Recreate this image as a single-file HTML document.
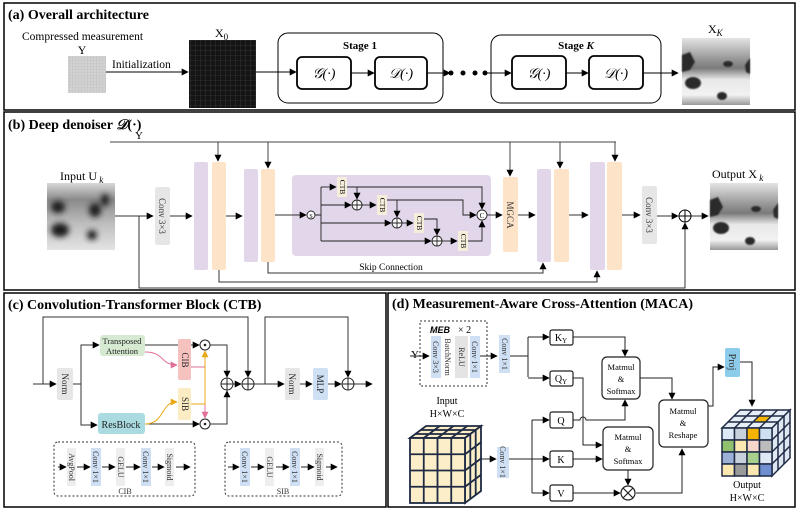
<!DOCTYPE html>
<html><head><meta charset="utf-8"><style>
html,body{margin:0;padding:0;background:#fff;}
svg{display:block;font-family:"Liberation Serif",serif;}
</style></head><body>
<svg width="798" height="510" viewBox="0 0 798 510" xmlns="http://www.w3.org/2000/svg">
<defs>
<marker id="a" viewBox="0 0 10 10" refX="9" refY="5" markerWidth="7" markerHeight="7" markerUnits="userSpaceOnUse" orient="auto"><path d="M0,0L10,5L0,10z" fill="#000"/></marker>
<marker id="ap" viewBox="0 0 10 10" refX="9" refY="5" markerWidth="7" markerHeight="7" markerUnits="userSpaceOnUse" orient="auto"><path d="M0,0L10,5L0,10z" fill="#e0709a"/></marker>
<marker id="ay" viewBox="0 0 10 10" refX="9" refY="5" markerWidth="7" markerHeight="7" markerUnits="userSpaceOnUse" orient="auto"><path d="M0,0L10,5L0,10z" fill="#e8a917"/></marker>
<pattern id="gy" width="3" height="3" patternUnits="userSpaceOnUse"><rect width="3" height="3" fill="#d2d2d2"/><path d="M0,0H3M0,0V3" stroke="#b8b8b8" stroke-width="0.6"/></pattern>
<pattern id="gx" width="5" height="5" patternUnits="userSpaceOnUse"><rect width="5" height="5" fill="#141414"/><path d="M0,0H5M0,0V5" stroke="#3a3a3a" stroke-width="0.8"/></pattern>
<linearGradient id="ug" x1="0" y1="0" x2="0" y2="1"><stop offset="0" stop-color="#d8d8d8"/><stop offset="0.25" stop-color="#8a8a8a"/><stop offset="0.6" stop-color="#bdbdbd"/><stop offset="1" stop-color="#e4e4e4"/></linearGradient>
<linearGradient id="og" x1="0" y1="0" x2="0" y2="1"><stop offset="0" stop-color="#e4e4e4"/><stop offset="0.3" stop-color="#9a9a9a"/><stop offset="0.45" stop-color="#7a7a7a"/><stop offset="0.62" stop-color="#e8e8e8"/><stop offset="0.85" stop-color="#f2f2f2"/><stop offset="1" stop-color="#999"/></linearGradient>
<filter id="bl"><feGaussianBlur stdDeviation="3"/></filter>
<filter id="bl2"><feGaussianBlur stdDeviation="0.8"/></filter>
</defs>

<g fill="none" stroke="#000" stroke-width="1.5">
<rect x="4" y="3" width="791" height="107"/>
<rect x="4" y="112" width="791" height="178"/>
<rect x="4" y="293" width="382" height="214"/>
<rect x="388" y="293" width="407" height="214"/>
</g>

<!-- (a) -->
<text x="8" y="19" font-size="14" font-weight="bold">(a) Overall architecture</text>
<text x="22" y="40" font-size="11.5">Compressed measurement</text>
<text x="82" y="54" font-size="11.5" text-anchor="middle">Y</text>
<rect x="68" y="56" width="38" height="37" fill="url(#gy)"/>
<text x="112" y="68" font-size="11.5">Initialization</text>
<line x1="106" y1="72" x2="188" y2="72" stroke="#000" marker-end="url(#a)"/>
<rect x="189" y="40" width="67" height="68" fill="url(#gx)"/>
<text x="215" y="37" font-size="12">X<tspan font-size="9" dy="3">0</tspan></text>
<line x1="256" y1="72" x2="296" y2="72" stroke="#000" marker-end="url(#a)"/>
<g fill="none" stroke="#000" stroke-width="1">
<rect x="278" y="33" width="165" height="70" rx="10"/>
<rect x="491" y="35" width="170" height="68" rx="10"/>
</g>
<g fill="none" stroke="#000" stroke-width="1.8">
<rect x="297" y="57" width="54" height="32" rx="5"/>
<rect x="375" y="57" width="52" height="32" rx="5"/>
<rect x="512" y="56" width="54" height="33" rx="5"/>
<rect x="589" y="56" width="54" height="33" rx="5"/>
</g>
<text x="360" y="49" font-size="11" font-weight="bold" text-anchor="middle">Stage 1</text>
<text x="576" y="49" font-size="11" font-weight="bold" text-anchor="middle">Stage <tspan font-style="italic">K</tspan></text>
<g font-size="14" font-style="italic" text-anchor="middle">
<text x="324" y="78">𝒢(·)</text><text x="401" y="78">𝒟(·)</text>
<text x="539" y="78">𝒢(·)</text><text x="616" y="78">𝒟(·)</text>
</g>
<g stroke="#000" fill="none">
<line x1="351" y1="73" x2="374" y2="73" marker-end="url(#a)"/>
<line x1="427" y1="73" x2="450" y2="73" marker-end="url(#a)"/>
<line x1="485" y1="73" x2="511" y2="73" marker-end="url(#a)"/>
<line x1="566" y1="73" x2="588" y2="73" marker-end="url(#a)"/>
<line x1="643" y1="73" x2="678" y2="73" marker-end="url(#a)"/>
</g>
<circle cx="451" cy="73" r="2.5"/><circle cx="463" cy="73" r="2.5"/><circle cx="475" cy="73" r="2.5"/><circle cx="485" cy="73" r="2.5"/>
<text x="708" y="33" font-size="12">X<tspan font-size="9" font-style="italic" dy="3">K</tspan></text>
<g>
<rect x="682" y="38" width="68" height="67" fill="url(#og)"/>
<g filter="url(#bl2)" fill="#2a2a2a"><path d="M682,55L690,52L695,62L690,70L682,72z"/><ellipse cx="728" cy="64" rx="5" ry="3"/><ellipse cx="693" cy="83" rx="8" ry="6"/><ellipse cx="722" cy="96" rx="5" ry="4"/><path d="M750,58L745,65L746,72L750,74z"/></g>
</g>

<!-- (b) -->
<text x="8" y="129" font-size="14" font-weight="bold">(b) Deep denoiser <tspan font-style="italic">𝒟</tspan>(·)</text>
<text x="139" y="139" font-size="11" text-anchor="middle">Y</text>
<g stroke="#444" fill="none">
<path d="M110,142H616"/>
<line x1="218" y1="142" x2="218" y2="161" marker-end="url(#a)"/>
<line x1="268" y1="142" x2="268" y2="168" marker-end="url(#a)"/>
<line x1="510" y1="142" x2="510" y2="176" marker-end="url(#a)"/>
<line x1="560" y1="142" x2="560" y2="168" marker-end="url(#a)"/>
<line x1="615" y1="142" x2="615" y2="161" marker-end="url(#a)"/>
</g>
<text x="60" y="180" font-size="12">Input U<tspan font-size="9" font-style="italic" dy="3"> k</tspan></text>
<rect x="47" y="183" width="68" height="67" fill="url(#ug)"/>
<g filter="url(#bl)" fill="#1a1a1a"><ellipse cx="58" cy="207" rx="7" ry="6"/><ellipse cx="95" cy="210" rx="6" ry="7"/><ellipse cx="60" cy="230" rx="9" ry="7"/><ellipse cx="92" cy="235" rx="5" ry="5"/><ellipse cx="105" cy="200" rx="4" ry="6"/></g>
<text x="712" y="178" font-size="12">Output X<tspan font-size="9" font-style="italic" dy="3"> k</tspan></text>
<rect x="710" y="183" width="68" height="67" fill="url(#og)"/>
<g filter="url(#bl2)" fill="#2a2a2a"><path d="M710,200L718,197L723,207L718,215L710,217z"/><ellipse cx="756" cy="209" rx="5" ry="3"/><ellipse cx="721" cy="228" rx="8" ry="6"/><ellipse cx="750" cy="241" rx="5" ry="4"/><path d="M778,203L773,210L774,217L778,219z"/></g>

<g fill="#e6e6e6"><rect x="155" y="187" width="15" height="58" rx="2"/><rect x="642" y="186" width="15" height="58" rx="2"/></g>
<g font-size="9" fill="#333">
<text transform="translate(159,216) rotate(90)" text-anchor="middle">Conv 3×3</text>
<text transform="translate(646,215) rotate(90)" text-anchor="middle">Conv 3×3</text>
</g>
<g fill="#e2d7ea">
<rect x="194" y="162" width="14" height="108" rx="2"/><rect x="244" y="169" width="14" height="93" rx="2"/>
<rect x="537" y="169" width="14" height="93" rx="2"/><rect x="590" y="162" width="15" height="108" rx="2"/>
<rect x="292" y="175" width="199" height="81" rx="4"/>
</g>
<g fill="#fde3c7">
<rect x="212" y="162" width="14" height="108" rx="2"/><rect x="261" y="169" width="14" height="93" rx="2"/>
<rect x="554" y="169" width="15" height="93" rx="2"/><rect x="607" y="162" width="15" height="108" rx="2"/>
<rect x="503" y="177" width="15" height="75" rx="2"/>
</g>
<text transform="translate(507,215) rotate(90)" font-size="9" text-anchor="middle" fill="#333">MGCA</text>
<text x="391" y="270" font-size="9.5" text-anchor="middle">Skip Connection</text>
<g stroke="#333" fill="none">
<path d="M115,216H139"/>
<line x1="139" y1="216" x2="153" y2="216" marker-end="url(#a)"/>
<line x1="170" y1="216" x2="192" y2="216" marker-end="url(#a)"/>
<line x1="226" y1="216" x2="242" y2="216" marker-end="url(#a)"/>
<line x1="275" y1="215" x2="306" y2="215" marker-end="url(#a)"/>
<line x1="518" y1="215" x2="535" y2="215" marker-end="url(#a)"/>
<line x1="569" y1="215" x2="588" y2="215" marker-end="url(#a)"/>
<line x1="622" y1="215" x2="640" y2="215" marker-end="url(#a)"/>
<line x1="657" y1="216" x2="678" y2="216" marker-end="url(#a)"/>
<line x1="691" y1="216" x2="708" y2="216" marker-end="url(#a)"/>
<path d="M139,216V288H685V223" marker-end="url(#a)"/>
<path d="M219,270V282H597V271" marker-end="url(#a)"/>
<path d="M268,262V273H543V263" marker-end="url(#a)"/>
</g>
<circle cx="685" cy="216" r="6" fill="#fff" stroke="#000"/><path d="M679,216H691M685,210V222" stroke="#000"/>

<!-- skip internals -->
<g stroke="#222" fill="none" stroke-width="0.9">
<path d="M315,215H321M321,187V241"/>
<line x1="321" y1="187" x2="336" y2="187" marker-end="url(#a)"/>
<path d="M347,187H482V209" marker-end="url(#a)"/>
<line x1="357" y1="187" x2="357" y2="199" marker-end="url(#a)"/>
<line x1="321" y1="205" x2="351" y2="205" marker-end="url(#a)"/>
<line x1="362" y1="205" x2="376" y2="205" marker-end="url(#a)"/>
<path d="M387,200H463V215H476" marker-end="url(#a)"/>
<line x1="397" y1="200" x2="397" y2="217" marker-end="url(#a)"/>
<line x1="321" y1="223" x2="391" y2="223" marker-end="url(#a)"/>
<line x1="402" y1="223" x2="413" y2="223" marker-end="url(#a)"/>
<path d="M424,219H437V235" marker-end="url(#a)"/>
<line x1="321" y1="241" x2="431" y2="241" marker-end="url(#a)"/>
<line x1="442" y1="241" x2="457" y2="241" marker-end="url(#a)"/>
<path d="M468,241H482V221" marker-end="url(#a)"/>
<line x1="487" y1="215" x2="502" y2="215" marker-end="url(#a)"/>
</g>
<g fill="#fff" stroke="#222" stroke-width="0.9">
<circle cx="311" cy="215" r="4"/><circle cx="482" cy="215" r="5"/>
<circle cx="357" cy="205" r="5"/><circle cx="397" cy="223" r="5"/><circle cx="437" cy="241" r="5"/>
</g>
<g stroke="#222" stroke-width="0.9"><path d="M352,205H362M357,200V210M392,223H402M397,218V228M432,241H442M437,236V246"/></g>
<text x="311" y="218" font-size="6" text-anchor="middle">S</text>
<text x="482" y="218" font-size="7" text-anchor="middle">C</text>
<g fill="#f4eedb"><rect x="337" y="177" width="10" height="20"/><rect x="377" y="195" width="10" height="20"/><rect x="414" y="213" width="10" height="20"/><rect x="458" y="231" width="10" height="20"/></g>
<g font-size="7.5" text-anchor="middle">
<text transform="translate(340,187) rotate(90)">CTB</text><text transform="translate(380,205) rotate(90)">CTB</text>
<text transform="translate(417,223) rotate(90)">CTB</text><text transform="translate(461,241) rotate(90)">CTB</text>
</g>

<!-- (c) -->
<text x="8" y="309" font-size="14" font-weight="bold">(c) Convolution-Transformer Block (CTB)</text>
<g stroke="#333" fill="none">
<line x1="33" y1="384" x2="56" y2="384" marker-end="url(#a)"/>
<path d="M43,384V317H248V377" marker-end="url(#a)"/>
<path d="M73,384H81V425H97" marker-end="url(#a)"/>
<path d="M81,384V345H99" marker-end="url(#a)"/>
<line x1="145" y1="345" x2="199" y2="345" marker-end="url(#a)"/>
<line x1="145" y1="424" x2="199" y2="424" marker-end="url(#a)"/>
<path d="M210,345H227V377" marker-end="url(#a)"/>
<path d="M210,424H227V391" marker-end="url(#a)"/>
<line x1="233" y1="384" x2="241" y2="384" marker-end="url(#a)"/>
<path d="M254,384H284" marker-end="url(#a)"/>
<path d="M265,384V317H348V377" marker-end="url(#a)"/>
<line x1="300" y1="384" x2="312" y2="384" marker-end="url(#a)"/>
<line x1="328" y1="384" x2="341" y2="384" marker-end="url(#a)"/>
<line x1="354" y1="384" x2="372" y2="384" marker-end="url(#a)"/>
</g>
<path d="M145,352C165,352 160,365 177,365" stroke="#e0709a" fill="none" marker-end="url(#ap)"/>
<path d="M191,367H205V418" stroke="#e0709a" fill="none" marker-end="url(#ap)"/>
<path d="M145,424C165,424 160,402 177,402" stroke="#e8a917" fill="none" marker-end="url(#ay)"/>
<path d="M191,404H205V351" stroke="#e8a917" fill="none" marker-end="url(#ay)"/>
<g fill="#fff" stroke="#222">
<circle cx="205" cy="345" r="5"/><circle cx="205" cy="424" r="5"/>
<circle cx="227" cy="384" r="6"/><circle cx="248" cy="384" r="6"/><circle cx="348" cy="384" r="6"/>
</g>
<g fill="#222"><circle cx="205" cy="345" r="1.3"/><circle cx="205" cy="424" r="1.3"/></g>
<path d="M221,384H233M227,378V390M242,384H254M248,378V390M342,384H354M348,378V390" stroke="#222"/>
<rect x="57" y="368" width="16" height="32" rx="2" fill="#e6e6e6"/>
<rect x="285" y="368" width="15" height="32" rx="2" fill="#e6e6e6"/>
<rect x="313" y="368" width="15" height="32" rx="2" fill="#cfe0f5"/>
<rect x="100" y="335" width="45" height="21" rx="3" fill="#d6ead2"/>
<rect x="98" y="413" width="47" height="21" rx="3" fill="#a9dbe0"/>
<rect x="178" y="339" width="13" height="41" rx="2" fill="#f6c2c0"/>
<rect x="178" y="388" width="13" height="32" rx="2" fill="#fcecc3"/>
<g font-size="9" text-anchor="middle" fill="#222">
<text transform="translate(62,384) rotate(90)">Norm</text>
<text transform="translate(289,384) rotate(90)">Norm</text>
<text transform="translate(317,384) rotate(90)">MLP</text>
<text transform="translate(182,360) rotate(90)">CIB</text>
<text transform="translate(182,404) rotate(90)">SIB</text>
<text x="122" y="344" font-size="8.5">Transposed</text>
<text x="122" y="354" font-size="8.5">Attention</text>
<text x="121" y="428" font-size="10">ResBlock</text>
</g>
<g fill="none" stroke="#333" stroke-dasharray="2,2"><rect x="54" y="442" width="141" height="54" rx="4"/><rect x="225" y="442" width="117" height="54" rx="4"/></g>
<g fill="#eee"><rect x="67" y="448" width="9" height="38"/><rect x="116" y="448" width="9" height="38"/><rect x="165" y="448" width="9" height="38"/><rect x="265" y="448" width="9" height="38"/><rect x="315" y="448" width="9" height="38"/></g>
<g fill="#cfe0f5"><rect x="91" y="448" width="10" height="38"/><rect x="141" y="448" width="10" height="38"/><rect x="240" y="448" width="10" height="38"/><rect x="290" y="448" width="10" height="38"/></g>
<g font-size="8" text-anchor="middle" fill="#333">
<text transform="translate(69,467) rotate(90)">AvgPool</text>
<text transform="translate(93,467) rotate(90)">Conv 1×1</text>
<text transform="translate(118,467) rotate(90)">GELU</text>
<text transform="translate(143,467) rotate(90)">Conv 1×1</text>
<text transform="translate(167,467) rotate(90)">Sigmoid</text>
<text transform="translate(242,467) rotate(90)">Conv 1×1</text>
<text transform="translate(267,467) rotate(90)">GELU</text>
<text transform="translate(292,467) rotate(90)">Conv 1×1</text>
<text transform="translate(317,467) rotate(90)">Sigmoid</text>
<text x="125" y="494">CIB</text><text x="283" y="494">SIB</text>
</g>
<g stroke="#222" fill="none">
<line x1="58" y1="467" x2="66" y2="467" marker-end="url(#a)"/><line x1="77" y1="467" x2="90" y2="467" marker-end="url(#a)"/>
<line x1="102" y1="467" x2="115" y2="467" marker-end="url(#a)"/><line x1="126" y1="467" x2="140" y2="467" marker-end="url(#a)"/>
<line x1="152" y1="467" x2="164" y2="467" marker-end="url(#a)"/><line x1="176" y1="467" x2="190" y2="467" marker-end="url(#a)"/>
<line x1="228" y1="467" x2="239" y2="467" marker-end="url(#a)"/><line x1="251" y1="467" x2="264" y2="467" marker-end="url(#a)"/>
<line x1="276" y1="467" x2="289" y2="467" marker-end="url(#a)"/><line x1="301" y1="467" x2="314" y2="467" marker-end="url(#a)"/>
<line x1="326" y1="467" x2="337" y2="467" marker-end="url(#a)"/>
</g>

<!-- (d) -->
<text x="392" y="308" font-size="14" font-weight="bold">(d) Measurement-Aware Cross-Attention (MACA)</text>
<rect x="420" y="321" width="67" height="65" fill="none" stroke="#333" stroke-dasharray="2,2"/>
<text x="430" y="333" font-size="9" font-style="italic" font-weight="bold" font-family="Liberation Sans,sans-serif">MEB</text>
<text x="458" y="333" font-size="10">× 2</text>
<rect x="431" y="336" width="10" height="42" fill="#cfe0f5"/>
<rect x="455" y="336" width="13" height="42" fill="#e4e4e4"/>
<rect x="470" y="336" width="10" height="42" fill="#cfe0f5"/>
<rect x="499" y="335" width="11" height="38" fill="#cfe0f5"/>
<rect x="497" y="447" width="12" height="31" fill="#cfe0f5"/>
<rect x="725" y="348" width="15" height="29" rx="2" fill="#8ccbea"/>
<g font-size="8" text-anchor="middle" fill="#333">
<text transform="translate(433,357) rotate(90)">Conv 3×3</text>
<text transform="translate(445,357) rotate(90)">BatchNorm</text>
<text transform="translate(459,357) rotate(90)">ReLU</text>
<text transform="translate(472,357) rotate(90)">Conv 1×1</text>
<text transform="translate(502,354) rotate(90)">Conv 1×1</text>
<text transform="translate(500,462) rotate(90)">Conv 1×1</text>
<text transform="translate(729,362) rotate(90)" font-size="10">Proj</text>
</g>
<text x="411" y="358" font-size="11">Y</text>
<g stroke="#222" fill="none">
<line x1="410" y1="356" x2="429" y2="356" marker-end="url(#a)"/>
<line x1="480" y1="356" x2="497" y2="356" marker-end="url(#a)"/>
<path d="M510,356H528"/>
<path d="M528,337V377"/>
<line x1="528" y1="337" x2="549" y2="337" marker-end="url(#a)"/>
<line x1="528" y1="378" x2="549" y2="378" marker-end="url(#a)"/>
<path d="M573,337H625V356" marker-end="url(#a)"/>
<path d="M573,378H583V445H602" marker-end="url(#a)"/>
<path d="M573,420H580A3,3 0 0 1 586,420H625V400" marker-end="url(#a)"/>
<line x1="573" y1="459" x2="602" y2="459" marker-end="url(#a)"/>
<line x1="573" y1="493" x2="620" y2="493" marker-end="url(#a)"/>
<line x1="628" y1="470" x2="628" y2="485" marker-end="url(#a)"/>
<path d="M636,493H682V449" marker-end="url(#a)"/>
<path d="M640,378H672V399" marker-end="url(#a)"/>
<path d="M708,406H713V367H724" marker-end="url(#a)"/>
<path d="M740,362H752V406" marker-end="url(#a)"/>
<line x1="476" y1="459" x2="496" y2="459" marker-end="url(#a)"/>
<path d="M509,459H532M532,420V493"/>
<line x1="532" y1="420" x2="549" y2="420" marker-end="url(#a)"/>
<line x1="532" y1="459" x2="549" y2="459" marker-end="url(#a)"/>
<line x1="532" y1="493" x2="549" y2="493" marker-end="url(#a)"/>
</g>
<g fill="#fff" stroke="#222" stroke-width="1.2">
<rect x="550" y="330" width="23" height="15" rx="2"/>
<rect x="550" y="371" width="23" height="15" rx="2"/>
<rect x="550" y="412" width="23" height="16" rx="2"/>
<rect x="550" y="451" width="23" height="16" rx="2"/>
<rect x="550" y="485" width="23" height="16" rx="2"/>
<rect x="602" y="357" width="38" height="42" rx="5"/>
<rect x="603" y="427" width="50" height="43" rx="5"/>
<rect x="659" y="400" width="49" height="47" rx="5"/>
<circle cx="628" cy="493" r="7"/>
</g>
<path d="M623,488L633,498M633,488L623,498" stroke="#222" stroke-width="1.2"/>
<g font-size="10" text-anchor="middle">
<text x="561" y="341">K<tspan font-size="7" dy="2">Y</tspan></text>
<text x="561" y="382">Q<tspan font-size="7" dy="2">Y</tspan></text>
<text x="561" y="424">Q</text><text x="561" y="463">K</text><text x="561" y="497">V</text>
<g font-size="8.5"><text x="621" y="370">Matmul</text><text x="621" y="382">&amp;</text><text x="621" y="394">Softmax</text>
<text x="628" y="440">Matmul</text><text x="628" y="452">&amp;</text><text x="628" y="464">Softmax</text>
<text x="683" y="414">Matmul</text><text x="683" y="426">&amp;</text><text x="683" y="438">Reshape</text></g>
<text x="447" y="404">Input</text><text x="447" y="417">H×W×C</text>
<text x="747" y="488">Output</text><text x="747" y="501">H×W×C</text>
</g>

<!-- input cube -->
<g stroke="#1f2a44" stroke-width="1.8" fill="#fbeec8">
<polygon points="410,438 465,438 481,426 426,426"/>
<polygon points="465,438 481,426 481,491 465,503"/>
<rect x="410" y="438" width="55" height="65"/>
</g>
<g stroke="#1f2a44" stroke-width="1.8" fill="none">
<path d="M423.75,438V503M437.5,438V503M451.25,438V503M410,454.25H465M410,470.5H465M410,486.75H465"/>
<path d="M423.75,438L439.75,426M437.5,438L453.5,426M451.25,438L467.25,426M415.3,434H470.3M420.7,430H475.7"/>
<path d="M465,454.25L481,442.25M465,470.5L481,458.5M465,486.75L481,474.75M470.3,434V499M475.7,430V495"/>
</g>

<!-- output cube -->
<g stroke="#1f2a44" stroke-width="1.5">
<polygon points="722,428 772,428 790,410 740,410" fill="#e6eef7"/>
<polygon points="772,428 790,410 790,458 772,476" fill="#dfe7f2"/>
<rect x="722" y="428" width="12.5" height="12" fill="#dde9f4"/><rect x="734.5" y="428" width="12.5" height="12" fill="#c8d0dc"/><rect x="747" y="428" width="12.5" height="12" fill="#f6b400"/><rect x="759.5" y="428" width="12.5" height="12" fill="#cfe0f2"/>
<rect x="722" y="440" width="12.5" height="12" fill="#8fbf6f"/><rect x="734.5" y="440" width="12.5" height="12" fill="#fbe7b0"/><rect x="747" y="440" width="12.5" height="12" fill="#f7d6cc"/><rect x="759.5" y="440" width="12.5" height="12" fill="#bcbcbc"/>
<rect x="722" y="452" width="12.5" height="12" fill="#9cb0d8"/><rect x="734.5" y="452" width="12.5" height="12" fill="#c8d0dc"/><rect x="747" y="452" width="12.5" height="12" fill="#a8d08d"/><rect x="759.5" y="452" width="12.5" height="12" fill="#dfe7f5"/>
<rect x="722" y="464" width="12.5" height="12" fill="#fbe7b0"/><rect x="734.5" y="464" width="12.5" height="12" fill="#9a9a9a"/><rect x="747" y="464" width="12.5" height="12" fill="#fbe7b0"/><rect x="759.5" y="464" width="12.5" height="12" fill="#6f8fd0"/>
</g>
<polygon points="753,422 765,422 771,416 759,416" fill="#f6b400"/>
<g stroke="#1f2a44" stroke-width="1.5" fill="none">
<path d="M734.5,428L752.5,410M747,428L765,410M759.5,428L777.5,410M728,422H778M734,416H784"/>
<path d="M772,440L790,422M772,452L790,434M772,464L790,446M778,422V470M784,416V464"/>
</g>
</svg>
</body></html>
